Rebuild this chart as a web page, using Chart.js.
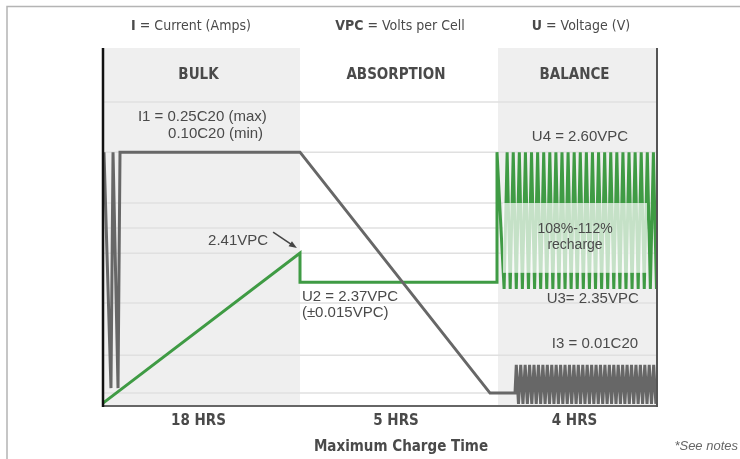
<!DOCTYPE html>
<html>
<head>
<meta charset="utf-8">
<script src="https://cdn.jsdelivr.net/npm/chart.js@4.4.1/dist/chart.umd.min.js"></script>
<style>
  html, body { margin: 0; padding: 0; background: #fff; }
  canvas { display: block; }
</style>
</head>
<body>
<canvas id="chargeChart" width="740" height="459"></canvas>
<script>
// charge phases (x axis runs 0-100 across the plot)
const phaseNames = ['BULK', 'ABSORPTION', 'BALANCE'];
const phaseHours = ['18 HRS', '5 HRS', '4 HRS'];
const phaseEdges = [0, 35.56, 71.3, 100];
const phaseShaded = [true, false, true];

// faint horizontal reference lines
const gridLevels = [84.9, 70.9, 56.7, 49.7, 42.7, 28.8, 14.2, 3.6];

// I - current curve (gray)
const currentX = [0.18, 1.44, 1.81, 2.71, 3.07, 35.56, 69.86, 74.37,
  74.6, 75.0, 75.4, 75.8, 76.2, 76.6, 77.0, 77.4, 77.8, 78.2, 78.6, 79.0, 79.4, 79.8, 80.2, 80.6,
  81.0, 81.4, 81.8, 82.2, 82.6, 83.0, 83.4, 83.8, 84.2, 84.6, 85.0, 85.4, 85.8, 86.2, 86.6, 87.0,
  87.4, 87.8, 88.2, 88.6, 89.0, 89.4, 89.8, 90.2, 90.6, 91.0, 91.4, 91.8, 92.2, 92.6, 93.0, 93.4,
  93.8, 94.2, 94.6, 95.0, 95.4, 95.8, 96.2, 96.6, 97.0, 97.4, 97.8, 98.2, 98.6, 99.0, 99.4, 99.8];
const currentY = [70.9, 5.0, 70.9, 5.0, 70.9, 70.9, 3.6, 3.6,
  11.5, 0.6, 11.5, 0.6, 11.5, 0.6, 11.5, 0.6, 11.5, 0.6, 11.5, 0.6, 11.5, 0.6, 11.5, 0.6, 11.5, 0.6,
  11.5, 0.6, 11.5, 0.6, 11.5, 0.6, 11.5, 0.6, 11.5, 0.6, 11.5, 0.6, 11.5, 0.6, 11.5, 0.6, 11.5, 0.6,
  11.5, 0.6, 11.5, 0.6, 11.5, 0.6, 11.5, 0.6, 11.5, 0.6, 11.5, 0.6, 11.5, 0.6, 11.5, 0.6, 11.5, 0.6,
  11.5, 0.6, 11.5, 0.6, 11.5, 0.6, 11.5, 0.6, 11.5, 0.6];

// U - voltage curve (green)
const voltageX = [0, 35.56, 35.56, 71.12, 71.12,
  72.40, 72.95, 73.50, 74.05, 74.60, 75.15, 75.70, 76.25, 76.80, 77.35, 77.90, 78.45, 79.00,
  79.55, 80.10, 80.65, 81.20, 81.75, 82.30, 82.85, 83.40, 83.95, 84.50, 85.05, 85.60, 86.15,
  86.70, 87.25, 87.80, 88.35, 88.90, 89.45, 90.00, 90.55, 91.10, 91.65, 92.20, 92.75, 93.30,
  93.85, 94.40, 94.95, 95.50, 96.05, 96.60, 97.15, 97.70, 98.25, 98.80, 99.35, 99.90];
const voltageY = [0.8, 42.7, 34.6, 34.6, 70.9,
  32.7, 70.9, 32.7, 70.9, 32.7, 70.9, 32.7, 70.9, 32.7, 70.9, 32.7, 70.9, 32.7,
  70.9, 32.7, 70.9, 32.7, 70.9, 32.7, 70.9, 32.7, 70.9, 32.7, 70.9, 32.7, 70.9,
  32.7, 70.9, 32.7, 70.9, 32.7, 70.9, 32.7, 70.9, 32.7, 70.9, 32.7, 70.9, 32.7,
  70.9, 32.7, 70.9, 32.7, 70.9, 32.7, 70.9, 32.7, 70.9, 32.7, 70.9, 32.7];

// notes placed at data positions [text, x, y, align]
const notes = [
  ['I1 = 0.25C20 (max)', 6.3, 80.7, 'left'],
  ['0.10C20 (min)', 28.9, 76.0, 'right'],
  ['2.41VPC', 29.8, 46.1, 'right'],
  ['U2 = 2.37VPC', 35.9, 30.4, 'left'],
  ['(\u00b10.015VPC)', 35.9, 26.0, 'left'],
  ['U4 = 2.60VPC', 86.1, 75.1, 'center'],
  ['U3= 2.35VPC', 88.4, 29.9, 'center'],
  ['I3 = 0.01C20', 88.8, 17.3, 'center']
];
const rechargeBox = [72.2, 98.2, 37.2, 56.7];
const rechargeText = ['108%-112%', 'recharge'];
const arrowFrom = [30.7, 48.6];
const arrowTo = [35.0, 44.1];

const narrow = '"Liberation Sans Narrow", "DejaVu Sans Condensed", "Roboto", sans-serif';
const plain = '"Liberation Sans", Arial, sans-serif';

function toPoints(xs, ys) {
  return xs.map((v, i) => ({ x: v, y: ys[i] }));
}

function keyText(ctx, boldPart, rest, cx, cy) {
  ctx.font = 'bold 14px ' + narrow;
  const w1 = ctx.measureText(boldPart).width;
  ctx.font = '14px ' + narrow;
  const w2 = ctx.measureText(rest).width;
  let sx = cx - (w1 + w2) / 2;
  ctx.textAlign = 'left';
  ctx.font = 'bold 14px ' + narrow;
  ctx.fillText(boldPart, sx, cy);
  ctx.font = '14px ' + narrow;
  ctx.fillText(rest, sx + w1, cy);
}

const cycleArt = {
  id: 'cycleArt',
  beforeDraw(chart) {
    const { ctx, chartArea: a, scales: { x, y } } = chart;
    ctx.save();
    ctx.fillStyle = '#fff';
    ctx.fillRect(0, 0, chart.width, chart.height);

    // outer frame
    ctx.strokeStyle = '#b4b4b4';
    ctx.lineWidth = 1.5;
    ctx.beginPath();
    ctx.moveTo(7, chart.height);
    ctx.lineTo(7, 6.5);
    ctx.lineTo(chart.width, 6.5);
    ctx.stroke();

    // shaded phases
    ctx.fillStyle = '#efefef';
    phaseNames.forEach((n, i) => {
      if (!phaseShaded[i]) return;
      const x0 = x.getPixelForValue(phaseEdges[i]);
      const x1 = x.getPixelForValue(phaseEdges[i + 1]);
      ctx.fillRect(x0, a.top, x1 - x0, a.bottom - a.top);
    });

    // grid lines
    ctx.strokeStyle = '#e0e0e0';
    ctx.lineWidth = 1.5;
    gridLevels.forEach(v => {
      const py = y.getPixelForValue(v);
      ctx.beginPath();
      ctx.moveTo(a.left, py);
      ctx.lineTo(a.right, py);
      ctx.stroke();
    });
    ctx.restore();
  },
  afterDatasetsDraw(chart) {
    const { ctx, chartArea: a, scales: { x, y } } = chart;
    ctx.save();

    // pale recharge box
    const bx0 = x.getPixelForValue(rechargeBox[0]);
    const bx1 = x.getPixelForValue(rechargeBox[1]);
    const by0 = y.getPixelForValue(rechargeBox[3]);
    const by1 = y.getPixelForValue(rechargeBox[2]);
    ctx.fillStyle = 'rgba(255,255,255,0.7)';
    ctx.fillRect(bx0, by0, bx1 - bx0, by1 - by0);

    // axes
    ctx.lineWidth = 2;
    ctx.strokeStyle = '#666';
    ctx.beginPath();
    ctx.moveTo(a.left, a.bottom);
    ctx.lineTo(a.right, a.bottom);
    ctx.stroke();
    ctx.strokeStyle = '#555';
    ctx.beginPath();
    ctx.moveTo(a.right, a.top);
    ctx.lineTo(a.right, a.bottom + 1);
    ctx.stroke();
    ctx.lineWidth = 2.5;
    ctx.strokeStyle = '#111';
    ctx.beginPath();
    ctx.moveTo(a.left, a.top);
    ctx.lineTo(a.left, a.bottom + 1);
    ctx.stroke();

    ctx.textBaseline = 'middle';
    ctx.fillStyle = '#4a4a4a';

    // key along the top
    keyText(ctx, 'I', ' = Current (Amps)', 191, 26);
    keyText(ctx, 'VPC', ' = Volts per Cell', 400, 26);
    keyText(ctx, 'U', ' = Voltage (V)', 581, 26);

    // phase titles and durations
    ctx.textAlign = 'center';
    phaseNames.forEach((n, i) => {
      const cx = x.getPixelForValue((phaseEdges[i] + phaseEdges[i + 1]) / 2) - 3;
      ctx.font = 'bold 15px ' + narrow;
      ctx.fillText(n, cx, 75);
      ctx.font = 'bold 15px ' + narrow;
      ctx.fillText(phaseHours[i], cx, 421);
    });
    ctx.font = 'bold 15px ' + narrow;
    ctx.fillText('Maximum Charge Time', 401, 447);
    ctx.textAlign = 'right';
    ctx.font = 'italic 13px ' + plain;
    ctx.fillStyle = '#666';
    ctx.fillText('*See notes', 738, 446);

    // value notes
    ctx.fillStyle = '#4a4a4a';
    ctx.font = '15px ' + plain;
    notes.forEach(n => {
      ctx.textAlign = n[3];
      ctx.fillText(n[0], x.getPixelForValue(n[1]), y.getPixelForValue(n[2]));
    });
    ctx.textAlign = 'center';
    ctx.font = '14px ' + plain;
    const rcx = (bx0 + bx1) / 2;
    ctx.fillText(rechargeText[0], rcx, y.getPixelForValue(49.4));
    ctx.fillText(rechargeText[1], rcx, y.getPixelForValue(45.0));

    // arrow to 2.41VPC peak
    const ax0 = x.getPixelForValue(arrowFrom[0]), ay0 = y.getPixelForValue(arrowFrom[1]);
    const ax1 = x.getPixelForValue(arrowTo[0]), ay1 = y.getPixelForValue(arrowTo[1]);
    const ang = Math.atan2(ay1 - ay0, ax1 - ax0);
    ctx.strokeStyle = '#444';
    ctx.fillStyle = '#444';
    ctx.lineWidth = 1.5;
    ctx.beginPath();
    ctx.moveTo(ax0, ay0);
    ctx.lineTo(ax1 - 5 * Math.cos(ang), ay1 - 5 * Math.sin(ang));
    ctx.stroke();
    ctx.beginPath();
    ctx.moveTo(ax1, ay1);
    ctx.lineTo(ax1 - 8 * Math.cos(ang) + 3 * Math.sin(ang), ay1 - 8 * Math.sin(ang) - 3 * Math.cos(ang));
    ctx.lineTo(ax1 - 8 * Math.cos(ang) - 3 * Math.sin(ang), ay1 - 8 * Math.sin(ang) + 3 * Math.cos(ang));
    ctx.closePath();
    ctx.fill();
    ctx.restore();
  }
};

new Chart(document.getElementById('chargeChart'), {
  type: 'line',
  data: {
    datasets: [
      {
        label: 'I',
        data: toPoints(currentX, currentY),
        borderColor: '#676767',
        borderWidth: 3,
        pointRadius: 0,
        tension: 0,
        clip: false
      },
      {
        label: 'U',
        data: toPoints(voltageX, voltageY),
        borderColor: '#3f9b44',
        borderWidth: 3,
        pointRadius: 0,
        tension: 0,
        clip: false
      }
    ]
  },
  options: {
    responsive: false,
    animation: false,
    layout: { padding: { left: 103, right: 83, top: 48, bottom: 53 } },
    scales: {
      x: { type: 'linear', min: 0, max: 100, display: false },
      y: { type: 'linear', min: 0, max: 100, display: false }
    },
    plugins: {
      legend: { display: false },
      tooltip: { enabled: false }
    }
  },
  plugins: [cycleArt]
});
</script>
</body>
</html>
